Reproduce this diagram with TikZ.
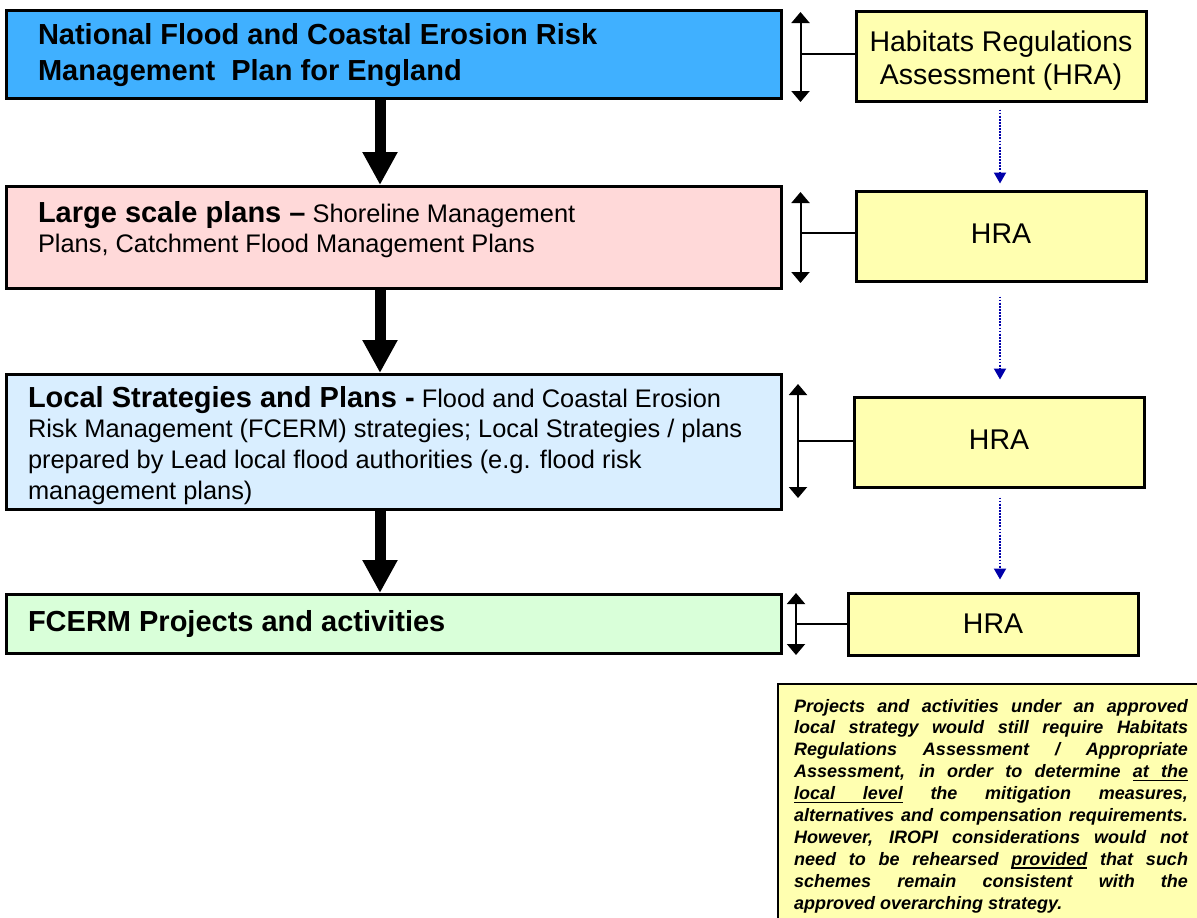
\documentclass[tikz,border=0pt]{standalone}
\usepackage{fontspec}
\setmainfont{Liberation Sans}
\usetikzlibrary{arrows.meta}
\definecolor{natblue}{RGB}{64,176,255}
\definecolor{lspink}{RGB}{255,217,217}
\definecolor{lclblue}{RGB}{217,238,255}
\definecolor{prjgreen}{RGB}{217,255,217}
\definecolor{hrayel}{RGB}{255,255,176}
\definecolor{dotnavy}{RGB}{0,0,170}
\newcommand{\bigf}{\fontsize{29}{36}\selectfont}
\newcommand{\ulw}[1]{\setbox0\hbox{#1}\rlap{\rule[-3.4pt]{\wd0}{1.3pt}}\box0\relax}
\newcommand{\ulsp}{\leaders\hrule height -2.1pt depth 3.4pt\hskip\fontdimen2\font plus\fontdimen3\font minus\fontdimen4\font}
\newcommand{\boxtext}[4]{\parbox[c][#1][t]{#2}{\raggedright\vspace*{#3}#4\par}}
\begin{document}
\begin{tikzpicture}[x=1pt,y=-1pt,
  mainbox/.style={draw=black, line width=3pt, rectangle, inner ysep=0pt},
  hrabox/.style={draw=black, line width=3pt, fill=hrayel, rectangle, minimum width=290pt, align=center, font=\fontsize{28.5}{33}\selectfont, inner sep=0pt},
  bigarrow/.style={line width=11pt, -{Triangle[width=33pt,length=33pt]}},
  dblarrow/.style={line width=2pt, {Triangle[width=18pt,length=11pt]}-{Triangle[width=18pt,length=11pt]}},
  tieline/.style={line width=2pt},
  dotarrow/.style={dotnavy, line width=2pt, dash pattern=on 1.8pt off 1.3pt, -{Triangle[width=12pt,length=11pt]}},
  notebox/.style={draw=black, line width=2pt, fill=hrayel, anchor=north west, inner xsep=16pt, inner ysep=15pt}
]
\useasboundingbox (0,0) rectangle (1197,918);

% main column
\node[mainbox, fill=natblue, inner xsep=31.5pt, minimum width=775pt] (b1) at (394,54.5)
  {\boxtext{88pt}{712pt}{13pt}{\bigf\bfseries National Flood and Coastal Erosion Risk\\Management\ \ Plan for England}};
\node[mainbox, fill=lspink, inner xsep=31.5pt, minimum width=775pt] (b2) at (394,237.5)
  {\boxtext{102pt}{712pt}{15pt}{\fontsize{25.4}{29.5}\selectfont\textbf{\bigf Large scale plans --} Shoreline Management\\Plans, Catchment Flood Management Plans}};
\node[mainbox, fill=lclblue, inner xsep=21.5pt, minimum width=775pt] (b3) at (394,442)
  {\boxtext{135pt}{732pt}{11.5pt}{\fontsize{25.4}{30.7}\selectfont\textbf{\bigf Local Strategies and Plans -} Flood and Coastal Erosion\\Risk Management (FCERM) strategies; Local Strategies / plans\\prepared by Lead local flood authorities (e.g. flood risk\\management plans)}};
\node[mainbox, fill=prjgreen, inner xsep=21.5pt, minimum width=775pt] (b4) at (394,624)
  {\boxtext{59pt}{732pt}{15.5pt}{\bigf\bfseries FCERM Projects and activities}};

% HRA column
\node[hrabox, minimum height=90pt] (h1) at (1001,56) {\raisebox{-5pt}[\height][\depth]{\parbox{280pt}{\centering Habitats Regulations\\Assessment (HRA)}}};
\node[hrabox, minimum height=90pt] (h2) at (1001,236) {\raisebox{2pt}[\height][\depth]{HRA}};
\node[hrabox, minimum height=90pt] (h3) at (999,442) {\raisebox{2pt}[\height][\depth]{HRA}};
\node[hrabox, minimum height=62pt] (h4) at (993,624) {HRA};

% big downward arrows
\coordinate (bx) at (380,0);
\draw[bigarrow] (b1.south -| bx) -- (b2.north -| bx);
\draw[bigarrow] (b2.south -| bx) -- (b3.north -| bx);
\draw[bigarrow] (b3.south -| bx) -- (b4.north -| bx);

% double arrows and ties
\coordinate (d1t) at (800.5,12);  \coordinate (d1b) at (800.5,102); \coordinate (d1m) at (800.5,54);
\coordinate (d2t) at (800.5,192); \coordinate (d2b) at (800.5,283); \coordinate (d2m) at (800.5,233);
\coordinate (d3t) at (798,384);   \coordinate (d3b) at (798,498);   \coordinate (d3m) at (798,441);
\coordinate (d4t) at (796,593);   \coordinate (d4b) at (796,655);   \coordinate (d4m) at (796,624);
\draw[dblarrow] (d1t) -- (d1b);
\draw[dblarrow] (d2t) -- (d2b);
\draw[dblarrow] (d3t) -- (d3b);
\draw[dblarrow] (d4t) -- (d4b);
\draw[tieline] (d1m) -- (d1m -| h1.west);
\draw[tieline] (d2m) -- (d2m -| h2.west);
\draw[tieline] (d3m) -- (d3m -| h3.west);
\draw[tieline] (d4m) -- (d4m -| h4.west);

% dotted arrows
\coordinate (ax) at (1000,0);
\draw[dotarrow, shorten <=7pt, shorten >=6pt] (h1.south -| ax) -- (h2.north -| ax);
\draw[dotarrow, shorten <=14pt, shorten >=16pt] (h2.south -| ax) -- (h3.north -| ax);
\draw[dotarrow, shorten <=9pt, shorten >=12pt] (h3.south -| ax) -- (h4.north -| ax);

% note
\node[notebox] (note) at (777,683) {\parbox{394pt}{\fontsize{18}{21.9}\selectfont\bfseries\itshape
\tolerance=10000\hyphenpenalty=10000\parfillskip=0pt plus 1fil
Projects and activities under an approved\linebreak
local strategy would still require Habitats\linebreak
Regulations Assessment / Appropriate\linebreak
Assessment, in order to determine \ulw{at}\ulsp\ulw{the}\linebreak
\ulw{local}\ulsp\ulw{level} the mitigation measures,\linebreak
alternatives and compensation requirements.\linebreak
However, IROPI considerations would not\linebreak
need to be rehearsed \ulw{provided} that such\linebreak
schemes remain consistent with the\linebreak
approved overarching strategy.\par\vspace{20pt}}};
\end{tikzpicture}
\end{document}
